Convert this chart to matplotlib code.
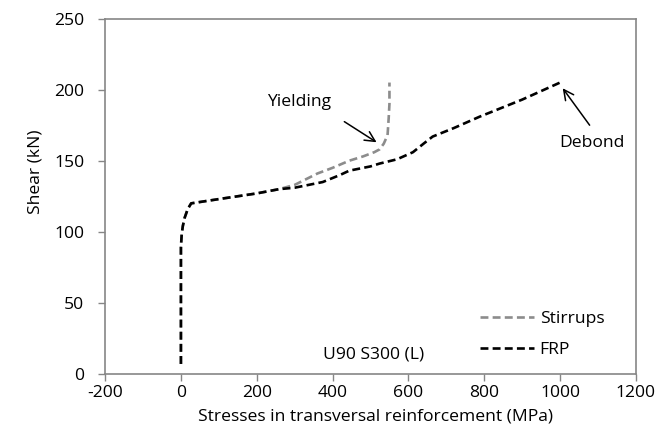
import matplotlib.pyplot as plt

# shear vs. stress in the transversal reinforcement, beam U90 S300 (L)
frp_stress = [0, 0, 0, 2, 5, 10, 18, 27, 100, 200, 259, 300, 374, 420, 444, 500,
              524, 570, 612, 640, 664, 720, 788, 900, 1000]
frp_shear = [7, 50, 89, 98, 104, 110, 116, 120, 123, 127, 130, 131, 135, 140, 143, 146,
             148, 151, 156, 162, 167, 173, 181, 193, 205]

stirrup_stress = [0, 0, 0, 2, 5, 10, 18, 27, 100, 200, 259, 300, 330, 360, 400, 444,
                  480, 510, 524, 535, 545, 548, 550, 550]
stirrup_shear = [7, 50, 89, 98, 104, 110, 116, 120, 123, 127, 130, 133, 137, 141, 145, 150,
                 153, 156, 158, 162, 168, 180, 190, 205]

x_ticks = [-200, 0, 200, 400, 600, 800, 1000, 1200]
y_ticks = [0, 50, 100, 150, 200, 250]

plt.rcParams['font.family'] = ['Open Sans', 'DejaVu Sans']
plt.rcParams['axes.unicode_minus'] = False
grey = '#868686'
fs = 12.6

fig = plt.figure(figsize=(6.61, 4.43), dpi=100)
ax = fig.add_axes([0.159, 0.156, 0.803, 0.802])

ax.plot(stirrup_stress, stirrup_shear, color='#8c8c8c', lw=1.9, dashes=(3, 1.6),
        label='Stirrups')
ax.plot(frp_stress, frp_shear, color='black', lw=1.9, dashes=(3, 1.6), label='FRP')

ax.set_xlim(-200, 1200)
ax.set_ylim(0, 250)
ax.set_xticks(x_ticks)
ax.set_yticks(y_ticks)
ax.tick_params(direction='out', length=5, width=1, color=grey, labelsize=fs)
ax.tick_params(axis='x', pad=3)
ax.tick_params(axis='y', pad=10)
for s in ax.spines.values():
    s.set_color(grey)
    s.set_linewidth(1.2)

ax.set_xlabel('Stresses in transversal reinforcement (MPa)', fontsize=fs, va='center')
ax.xaxis.set_label_coords(0.51, -0.121)
ax.set_ylabel('Shear (kN)', fontsize=fs, va='center')
ax.yaxis.set_label_coords(-0.132, 0.569)

# annotations
ax.annotate('', xy=(516, 163), xytext=(431, 177.5),
            arrowprops=dict(arrowstyle='->', color='black', lw=1.1,
                            mutation_scale=18, shrinkA=0, shrinkB=0))
ax.text(312, 191.5, 'Yielding', fontsize=fs, ha='center', va='center')
ax.annotate('', xy=(1007, 201), xytext=(1078, 175),
            arrowprops=dict(arrowstyle='->', color='black', lw=1.1,
                            mutation_scale=18, shrinkA=0, shrinkB=0))
ax.text(1085, 162.7, 'Debond', fontsize=fs, ha='center', va='center')
ax.text(508, 13.4, 'U90 S300 (L)', fontsize=fs, ha='center', va='center')

ax.legend(loc='lower right', bbox_to_anchor=(0.97, 0.0),
          frameon=False, fontsize=fs, handlelength=3.1, handletextpad=0.3,
          labelspacing=0.85)

fig.savefig('out.png', dpi=100)
